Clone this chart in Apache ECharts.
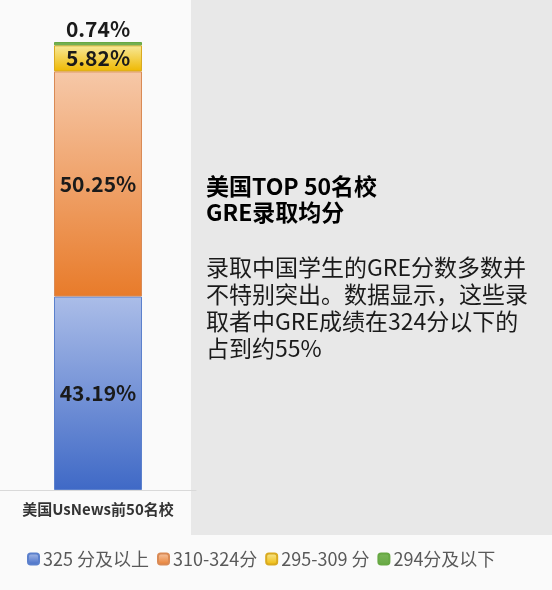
<!DOCTYPE html>
<html>
<head>
<meta charset="utf-8">
<script src="https://cdn.jsdelivr.net/npm/echarts@6/dist/echarts.min.js"></script>
<style>
  html, body { margin: 0; padding: 0; background: #fafafa; }
  #main { width: 552px; height: 590px; }
</style>
</head>
<body>
<div id="main"></div>
<script>
var categories = ['美国UsNews前50名校'];
var seriesNames = ['325 分及以上', '310-324分', '295-309 分', '294分及以下'];
var high = [43.19];
var midHigh = [50.25];
var midLow = [5.82];
var low = [0.74];

var titleLines = ['美国TOP 50名校', 'GRE录取均分'];
var bodyLines = ['录取中国学生的GRE分数多数并', '不特别突出。数据显示，这些录', '取者中GRE成绩在324分以下的', '占到约55%'];

var font = '"Noto Sans CJK SC", "Noto Sans", sans-serif';

function grad(top, bottom) {
    return new echarts.graphic.LinearGradient(0, 0, 0, 1, [
        { offset: 0, color: top },
        { offset: 1, color: bottom }
    ]);
}

var chart = echarts.init(document.getElementById('main'));

var labelStyle = {
    show: true,
    position: 'inside',
    formatter: '{c}%',
    fontFamily: font,
    fontWeight: 'bold',
    fontSize: 21,
    color: '#1a1a1a'
};

function bar(name, data, colorTop, colorBottom, border, labelPos) {
    var label = Object.assign({}, labelStyle);
    if (labelPos) {
        label.position = labelPos;
        label.distance = 2;
    }
    return {
        name: name,
        type: 'bar',
        stack: 'total',
        barWidth: 88,
        data: data,
        itemStyle: {
            color: grad(colorTop, colorBottom),
            borderColor: border,
            borderWidth: 1
        },
        label: label
    };
}

var option = {
    backgroundColor: '#fafafa',
    animation: false,
    grid: { left: 0, right: 356, top: 42, bottom: 100 },
    legend: {
        left: 22,
        top: 545,
        itemWidth: 11,
        itemHeight: 11,
        itemGap: 8,
        textStyle: { fontFamily: font, fontSize: 18, color: '#595959', padding: [0, 0, 0, -1] },
        data: seriesNames
    },
    xAxis: {
        type: 'category',
        data: categories,
        axisLine: { lineStyle: { color: '#d9d9d9' } },
        axisTick: { show: false },
        axisLabel: { fontFamily: font, fontWeight: 'bold', fontSize: 15, color: '#333', margin: 12 }
    },
    yAxis: {
        type: 'value',
        min: 0,
        max: 100,
        show: false
    },
    graphic: [
        {
            type: 'rect',
            z: -10,
            shape: { x: 191, y: 0, width: 361, height: 535 },
            style: { fill: '#e8e8e8' }
        },
        {
            type: 'text',
            left: 206,
            top: 173,
            style: {
                text: titleLines.join('\n'),
                font: 'bold 23px ' + font,
                lineHeight: 26,
                fill: '#000'
            }
        },
        {
            type: 'text',
            left: 206,
            top: 254,
            style: {
                text: bodyLines.join('\n'),
                font: '23px ' + font,
                lineHeight: 27,
                fill: '#1a1a1a'
            }
        }
    ],
    series: [
        bar(seriesNames[0], high, '#abbde8', '#3f69c6', '#5b80cc'),
        bar(seriesNames[1], midHigh, '#f6c8a8', '#e87b2a', '#d98a55'),
        bar(seriesNames[2], midLow, '#f7e99a', '#efb800', '#d9aa20'),
        bar(seriesNames[3], low, '#7bb659', '#67a843', '#67a843', 'top')
    ]
};

chart.setOption(option);

window.onresize = chart.resize;
</script>
</body>
</html>
